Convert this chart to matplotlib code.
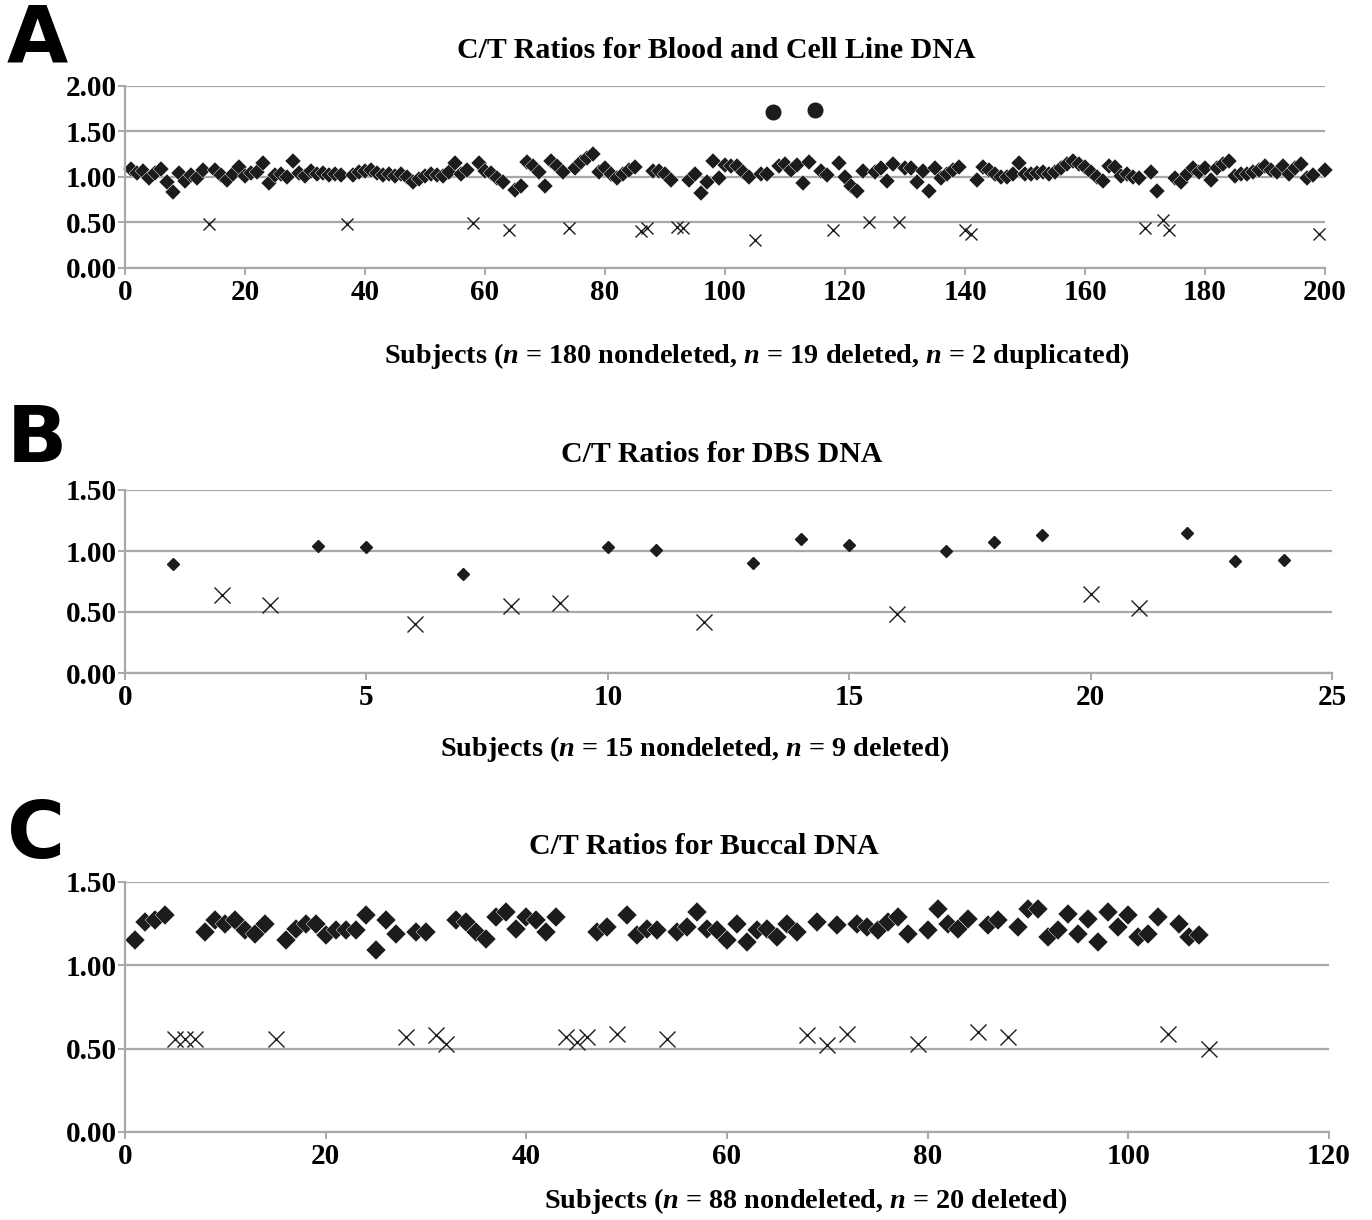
import matplotlib
matplotlib.use('Agg')
import matplotlib.pyplot as plt

plt.rcParams['font.family'] = ['Liberation Serif', 'DejaVu Serif']
plt.rcParams['font.weight'] = 'bold'
plt.rcParams['mathtext.fontset'] = 'custom'
plt.rcParams['mathtext.it'] = 'Liberation Serif:italic:bold'
plt.rcParams['mathtext.rm'] = 'Liberation Serif:bold'

# panel A: blood and cell line DNA
a_del_x = [14, 37, 58, 64, 74, 86, 87, 92, 93, 105, 118, 124, 129, 140, 141, 170, 173, 174, 199]
a_del_y = [0.48, 0.48, 0.49, 0.42, 0.44, 0.41, 0.44, 0.45, 0.44, 0.31,
           0.42, 0.51, 0.50, 0.42, 0.37, 0.44, 0.53, 0.42, 0.37]
a_dup_x = [108, 115]
a_dup_y = [1.71, 1.74]
a_nondel_y = [
    # subjects 1-50
    1.09, 1.04, 1.07, 0.99, 1.04, 1.09, 0.94, 0.84, 1.04, 0.96, 1.02, 0.99, 1.08,
    1.08, 1.02, 0.97, 1.03, 1.11, 1.01, 1.04, 1.06, 1.15, 0.93,
    1.02, 1.03, 1.00, 1.18, 1.04, 1.01, 1.07, 1.03, 1.04, 1.02, 1.03, 1.02,
    1.02, 1.05, 1.07, 1.08, 1.04, 1.02, 1.03, 1.01, 1.03, 1.00, 0.94, 0.98, 1.01,
    # 51-100
    1.03, 1.02, 1.01, 1.06, 1.15, 1.03, 1.08, 1.15, 1.07, 1.04, 0.99, 0.94,
    0.86, 0.90, 1.16, 1.12, 1.06, 0.90, 1.18, 1.12, 1.05,
    1.10, 1.16, 1.21, 1.25, 1.06, 1.10, 1.03, 0.99, 1.03, 1.08, 1.11,
    1.07, 1.07, 1.03, 0.97, 0.97, 1.03, 0.82, 0.95, 1.18, 0.99, 1.13,
    # 101-150
    1.12, 1.12, 1.06, 1.00, 1.03, 1.03, 1.12, 1.14, 1.08, 1.13, 0.93, 1.16,
    1.07, 1.02, 1.15, 1.00, 0.90, 0.85, 1.07, 1.06, 1.10, 0.96, 1.14,
    1.10, 1.10, 0.95, 1.07, 0.85, 1.10, 0.99, 1.03, 1.08, 1.11,
    0.97, 1.11, 1.08, 1.03, 1.00, 1.00, 1.03, 1.15, 1.03,
    # 151-200
    1.03, 1.04, 1.05, 1.03, 1.06, 1.10, 1.14, 1.18, 1.14, 1.11, 1.06, 1.00,
    0.96, 1.12, 1.11, 1.01, 1.03, 1.00, 0.99, 1.05, 0.85,
    0.99, 0.94, 1.03, 1.10, 1.05, 1.10, 0.97, 1.10, 1.14, 1.18, 1.01, 1.03,
    1.03, 1.06, 1.08, 1.12, 1.08, 1.06, 1.12, 1.03, 1.10, 1.14, 0.99, 1.02, 1.08]
a_nondel_x = [i for i in range(1, 201) if i not in a_del_x + a_dup_x]

# panel B: DBS DNA
b_nondel_x = [1, 4, 5, 7, 10, 11, 13, 14, 15, 17, 18, 19, 22, 23, 24]
b_nondel_y = [0.89, 1.04, 1.03, 0.81, 1.03, 1.01, 0.90, 1.10, 1.05, 1.00, 1.07, 1.13, 1.15, 0.92, 0.93]
b_del_x = [2, 3, 6, 8, 9, 12, 16, 20, 21]
b_del_y = [0.64, 0.56, 0.40, 0.55, 0.57, 0.42, 0.48, 0.65, 0.53]

# panel C: buccal DNA
c_del_x = [5, 6, 7, 15, 28, 31, 32, 44, 45, 46, 49, 54, 68, 70, 72, 79, 85, 88, 104, 108]
c_del_y = [0.56, 0.56, 0.56, 0.56, 0.57, 0.58, 0.53, 0.57, 0.54, 0.57,
           0.59, 0.56, 0.58, 0.52, 0.59, 0.53, 0.60, 0.57, 0.59, 0.50]
c_nondel_y = [
    1.15, 1.26, 1.27, 1.30, 1.20, 1.27, 1.25, 1.27, 1.21, 1.19, 1.25,
    1.15, 1.22, 1.25, 1.25, 1.18, 1.21, 1.21, 1.21, 1.30, 1.09, 1.27, 1.19,
    1.20, 1.20, 1.27, 1.26, 1.20, 1.16, 1.29, 1.32, 1.22, 1.29, 1.27, 1.20, 1.29,
    1.20, 1.23, 1.30, 1.18, 1.22, 1.21, 1.20, 1.23, 1.32, 1.22, 1.21, 1.15,
    1.25, 1.14, 1.21, 1.22, 1.17, 1.25, 1.20, 1.26, 1.24, 1.25, 1.23, 1.21,
    1.26, 1.29, 1.19, 1.21, 1.34, 1.25, 1.22, 1.28, 1.24, 1.27, 1.23, 1.34,
    1.34, 1.17, 1.21, 1.31, 1.19, 1.28, 1.14, 1.32, 1.23, 1.30, 1.17, 1.19,
    1.29, 1.25, 1.17, 1.18]
c_nondel_x = [i for i in range(1, 109) if i not in c_del_x]

GRID = '#a8a8a8'
MARK = '#1c1c1c'
W, H = 1372, 1220


def px_axes(fig, left, right, top, bottom):
    return fig.add_axes([left / W, 1 - bottom / H, (right - left) / W, (bottom - top) / H])


def style(ax, xmax, xstep, ymax):
    ax.set_xlim(0, xmax)
    ax.set_ylim(0, ymax)
    ax.set_xticks(range(0, xmax + 1, xstep))
    yt = [i * 0.5 for i in range(int(ymax / 0.5) + 1)]
    ax.set_yticks(yt)
    ax.set_yticklabels([f'{v:.2f}' for v in yt])
    ax.grid(axis='y', color=GRID, lw=1.6)
    ax.set_axisbelow(True)
    for s in ['top', 'right']:
        ax.spines[s].set_visible(False)
    for s in ['left', 'bottom']:
        ax.spines[s].set_color(GRID)
        ax.spines[s].set_linewidth(1.6)
    ax.tick_params(axis='both', direction='out', color=GRID, width=1.4, length=5,
                   labelsize=21)
    ax.tick_params(axis='x', pad=3)
    ax.tick_params(axis='y', pad=1)


fig = plt.figure(figsize=(W / 100, H / 100), dpi=100)

axA = px_axes(fig, 125, 1325, 86, 268)
style(axA, 200, 20, 2.0)
axA.plot(a_nondel_x, a_nondel_y, 'D', ms=7.8, color=MARK, mec='white', mew=0.3, clip_on=False)
axA.plot(a_del_x, a_del_y, 'x', ms=8.5, color=MARK, mew=1.0)
axA.plot(a_dup_x, a_dup_y, 'o', ms=10.5, color=MARK)

axB = px_axes(fig, 125, 1332, 490, 673)
style(axB, 25, 5, 1.5)
axB.plot(b_nondel_x, b_nondel_y, 'D', ms=6.4, color=MARK)
axB.plot(b_del_x, b_del_y, 'x', ms=11.5, color=MARK, mew=1.0)

axC = px_axes(fig, 125, 1329, 882, 1132)
style(axC, 120, 20, 1.5)
axC.plot(c_nondel_x, c_nondel_y, 'D', ms=10, color=MARK, mec='white', mew=0.3)
axC.plot(c_del_x, c_del_y, 'x', ms=11.5, color=MARK, mew=1.0)

titles = [('C/T Ratios for Blood and Cell Line DNA', 716, 50),
          ('C/T Ratios for DBS DNA', 722, 454),
          ('C/T Ratios for Buccal DNA', 704, 846)]
for t, x, y in titles:
    fig.text(x / W, 1 - y / H, t, ha='center', va='center', fontsize=21.5, fontweight='bold')

xlabels = [('Subjects ($n$ = 180 nondeleted, $n$ = 19 deleted, $n$ = 2 duplicated)', 757, 356),
           ('Subjects ($n$ = 15 nondeleted, $n$ = 9 deleted)', 695, 749),
           ('Subjects ($n$ = 88 nondeleted, $n$ = 20 deleted)', 806, 1201)]
for t, x, y in xlabels:
    fig.text(x / W, 1 - y / H, t, ha='center', va='center', fontsize=20.3, fontweight='bold')

for letter, y in [('A', 40), ('B', 440), ('C', 836)]:
    fig.text(7 / W, 1 - y / H, letter, ha='left', va='center', fontsize=57,
             fontweight='bold', family='DejaVu Sans')

fig.savefig('out.png', dpi=100)
